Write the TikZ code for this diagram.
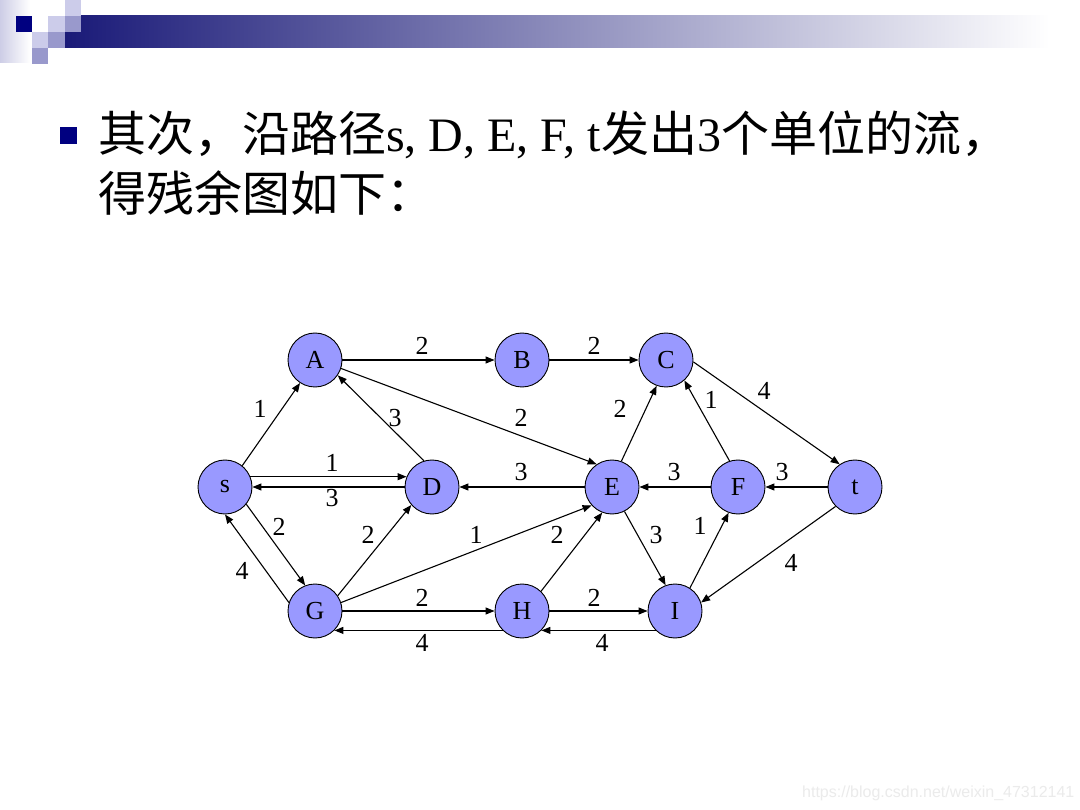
\documentclass[tikz,border=0pt]{standalone}
\usepackage{fontspec}
\setmainfont{Liberation Serif}
\newfontfamily\cjk{Noto Sans CJK SC}
\newfontfamily\wmfont{Liberation Sans}
\usetikzlibrary{arrows.meta}
\definecolor{nodefill}{RGB}{153,153,255}
\definecolor{navyblue}{RGB}{0,0,128}
\definecolor{barnavy}{RGB}{26,26,120}
\definecolor{barmid}{RGB}{165,165,190}
\definecolor{sqlight}{RGB}{204,204,234}
\definecolor{sqmed}{RGB}{153,153,204}
\definecolor{stripcol}{RGB}{205,205,230}
\begin{document}
\begin{tikzpicture}[x=1pt,y=-1pt,
  vtx/.style={circle,draw=black,line width=0.9pt,fill=nodefill,minimum size=54pt,inner sep=0pt,font=\fontsize{26}{26}\selectfont},
  arc/.style={-{Triangle[length=9pt,width=7pt]},line width=1.1pt},
  lbl/.style={font=\fontsize{26}{26}\selectfont,inner sep=0pt},
  title/.style={anchor=base west,inner sep=0pt,font=\fontsize{48}{48}\selectfont}]
\useasboundingbox (0,0) rectangle (1080,810);
\fill[white] (0,0) rectangle (1080,810);
% header decoration
\shade[left color=stripcol,right color=white] (0,0) rectangle (30,63);
\shade[left color=barnavy,middle color=barmid,right color=white] (65,16) rectangle (1050,48);
\fill[white] (1050,16) rectangle (1080,48);
\fill[navyblue] (16,16) rectangle (32,32);
\fill[sqlight] (48,16) rectangle (65,32);
\fill[sqlight] (65,0) rectangle (81,16);
\fill[sqmed] (65,16) rectangle (81,32);
\fill[sqlight] (32,32) rectangle (48,48);
\fill[sqmed] (48,32) rectangle (65,48);
\fill[sqmed] (32,48) rectangle (48,64);
% title
\fill[navyblue] (60,127) rectangle (77,144);
\node[title] (l1) at (98,152) {{\cjk 其次，沿路径}s, D, E, F, t{\cjk 发出}3{\cjk 个单位的流，}};
\node[title] (l2) at (98,212) {{\cjk 得残余图如下：}};
% nodes
\node[vtx] (A) at (315,360) {A};
\node[vtx] (B) at (522,360) {B};
\node[vtx] (C) at (666,360) {C};
\node[vtx] (s) at (225,487) {s};
\node[vtx] (D) at (432,487) {D};
\node[vtx] (E) at (612,487) {E};
\node[vtx] (F) at (738,487) {F};
\node[vtx] (t) at (855,487) {t};
\node[vtx] (G) at (315,611) {G};
\node[vtx] (H) at (522,611) {H};
\node[vtx] (I) at (675,611) {I};
% edges
\draw[arc] (A) -- (B) node[lbl] at (422,346) {2};
\draw[arc] (B) -- (C) node[lbl] at (594,346) {2};
\draw[arc] (C.-4) -- (t.124) node[lbl] at (764,391) {4};
\draw[arc] (s.51) -- (A.237) node[lbl] at (260,409) {1};
\draw[arc] (D.107) -- (A.-34) node[lbl] at (395,418) {3};
\draw[arc] (A.-18) -- (E.124) node[lbl] at (521,418) {2};
\draw[arc] (E.70) -- (C.250) node[lbl] at (620,409) {2};
\draw[arc] (F.108) -- (C.-48) node[lbl] at (711,400) {1};
\draw[arc] (s.22) -- (D.158) node[lbl] at (332,463) {1};
\draw[arc] (D.west) -- (s.east) node[lbl] at (332,498) {3};
\draw[arc] (E) -- (D) node[lbl] at (521,472) {3};
\draw[arc] (F) -- (E) node[lbl] at (674,472) {3};
\draw[arc] (t) -- (F) node[lbl] at (782,472) {3};
\draw[arc] (s.-39) -- (G.111) node[lbl] at (279,527) {2};
\draw[arc] (G.162) -- (s.-90) node[lbl] at (242,571) {4};
\draw[arc] (G.34) -- (D.221) node[lbl] at (368,535) {2};
\draw[arc] (G.18) -- (E.222) node[lbl] at (476,535) {1};
\draw[arc] (H.46) -- (E.249) node[lbl] at (557,535) {2};
\draw[arc] (E.-63) -- (I.110) node[lbl] at (656,535) {3};
\draw[arc] (I.57) -- (F.250) node[lbl] at (700,526) {1};
\draw[arc] (t.225) -- (I.18) node[lbl] at (791,563) {4};
\draw[arc] (G) -- (H) node[lbl] at (422,598) {2};
\draw[arc] (H.225) -- (G.315) node[lbl] at (422,643) {4};
\draw[arc] (H) -- (I) node[lbl] at (594,598) {2};
\draw[arc] (I.225) -- (H.315) node[lbl] at (602,643) {4};
% watermark
\node[anchor=base west,inner sep=0pt,font=\wmfont\fontsize{16}{16}\selectfont,text=black!8] (wm) at (802,797) {https://blog.csdn.net/weixin\_47312141};
\end{tikzpicture}
\end{document}
